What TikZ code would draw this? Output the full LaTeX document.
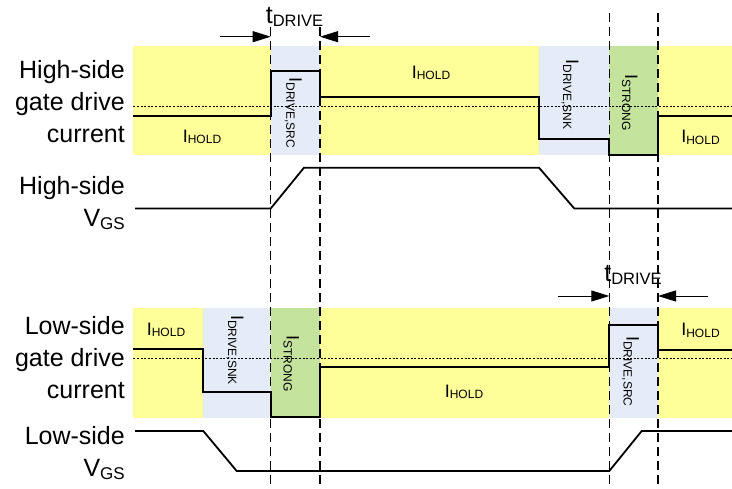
\documentclass[tikz,border=0pt]{standalone}
\usepackage{fontspec}
\setmainfont{Liberation Sans}
\usetikzlibrary{arrows.meta}
\definecolor{holdyellow}{RGB}{255,255,153}
\definecolor{driveblue}{RGB}{230,236,247}
\definecolor{stronggreen}{RGB}{196,227,157}
\newcommand{\cur}[2][1.5pt]{\fontsize{18}{18}\selectfont I\raisebox{-#1}{\fontsize{12}{12}\selectfont #2}}
\newcommand{\tdrive}{\fontsize{25}{25}\selectfont t\raisebox{-2.5pt}{\fontsize{16.5}{16.5}\selectfont DRIVE}}
\newcommand{\vgs}{V\raisebox{-2.7pt}{\fontsize{17}{17}\selectfont GS}}
\begin{document}
\begin{tikzpicture}[x=1pt,y=-1pt,
  wave/.style={line width=1.8pt},
  guide/.style={line width=1.1pt,dash pattern=on 9pt off 5pt},
  mid/.style={line width=0.9pt,dash pattern=on 2pt off 1.6pt},
  dim/.style={line width=0.9pt,-{Triangle[length=18pt,width=11pt]}},
  lbl/.style={inner sep=0pt,anchor=base},
  rlbl/.style={inner sep=0pt,anchor=base west,rotate=-90},
  side/.style={inner sep=0pt,align=right,anchor=base east,font=\fontsize{25}{32}\selectfont}]

  \useasboundingbox (0,0) rectangle (732,489);

  % current bands
  \fill[holdyellow] (133.3,46) rectangle (732,155);
  \fill[driveblue] (270.7,46) rectangle (320,155);
  \fill[driveblue] (539,46) rectangle (609.3,155);
  \fill[stronggreen] (609.3,46) rectangle (658,155);

  \fill[holdyellow] (133.3,308) rectangle (732,417.7);
  \fill[driveblue] (203.3,308) rectangle (270.7,417.7);
  \fill[stronggreen] (270.7,308) rectangle (320,417.7);
  \fill[driveblue] (609.3,308) rectangle (658,417.7);

  \draw[mid] (133.3,106.7) -- (732,106.7);
  \draw[mid] (133.3,358.7) -- (732,358.7);

  % edges
  \coordinate (e1) at (270.7,27);
  \coordinate (e2) at (320,27);
  \coordinate (e3) at (609.3,13);
  \coordinate (e4) at (658,13);
  \foreach \e in {e1,e2,e3,e4}
    \draw[guide] (\e) -- (\e |- 0,489);

  % t_DRIVE markers
  \coordinate (al1) at (220,36.7);
  \coordinate (ar1) at (370,36.7);
  \coordinate (al2) at (558,296);
  \coordinate (ar2) at (708,296);
  \draw[dim] (al1) -- (al1 -| e1);
  \draw[dim] (ar1) -- (ar1 -| e2);
  \draw[dim] (al2) -- (al2 -| e3);
  \draw[dim] (ar2) -- (ar2 -| e4);

  % waveforms
  \draw[wave] (133.3,115.7) -- (270.7,115.7) -- (270.7,71) -- (320,71) -- (320,96.7)
    -- (539,96.7) -- (539,139.3) -- (609.3,139.3) -- (609.3,155.3) -- (658,155.3)
    -- (658,116) -- (732,116);
  \draw[wave] (135,208.5) -- (270.7,208.5) -- (304,167.7) -- (539,167.7) -- (574.3,208.5)
    -- (732,208.5);
  \draw[wave] (133.3,349.3) -- (203.3,349.3) -- (203.3,392.3) -- (270.7,392.3) -- (270.7,417)
    -- (320,417) -- (320,367) -- (609.3,367) -- (609.3,325.3) -- (658,325.3)
    -- (658,349.7) -- (732,349.7);
  \draw[wave] (135,431) -- (203.3,431) -- (236.7,471) -- (609.3,471) -- (641.7,431)
    -- (732,431);

  \node[lbl] (td1) at (294.5,24) {\tdrive};
  \node[lbl] (td2) at (633,281.7) {\tdrive};

  \node[lbl] (hold1) at (202,142.3) {\cur{HOLD}};
  \node[lbl] (hold2) at (431,78.3) {\cur{HOLD}};
  \node[lbl] (hold3) at (700.5,142.7) {\cur{HOLD}};
  \node[lbl] (hold4) at (166,335.5) {\cur{HOLD}};
  \node[lbl] (hold5) at (464,397.3) {\cur{HOLD}};
  \node[lbl] (hold6) at (700.5,336) {\cur{HOLD}};

  \node[rlbl] (srchi) at (289.3,77.3) {\cur[3pt]{DRIVE,SRC}};
  \node[rlbl] (snkhi) at (566,59.3) {\cur[3pt]{DRIVE,SNK}};
  \node[rlbl] (strhi) at (625,74) {\cur[3pt]{STRONG}};
  \node[rlbl] (snklo) at (231,315) {\cur[3pt]{DRIVE,SNK}};
  \node[rlbl] (strlo) at (286.7,335) {\cur[3pt]{STRONG}};
  \node[rlbl] (srclo) at (626.7,336) {\cur[3pt]{DRIVE,SRC}};

  \node[side] (hicur) at (125,142.7) {High-side\\gate drive\\current};
  \node[side] (hivgs) at (125,226.7) {High-side\\\vgs};
  \node[side] (locur) at (125,398.3) {Low-side\\gate drive\\current};
  \node[side] (lovgs) at (125,476.7) {Low-side\\\vgs};

\end{tikzpicture}
\end{document}
